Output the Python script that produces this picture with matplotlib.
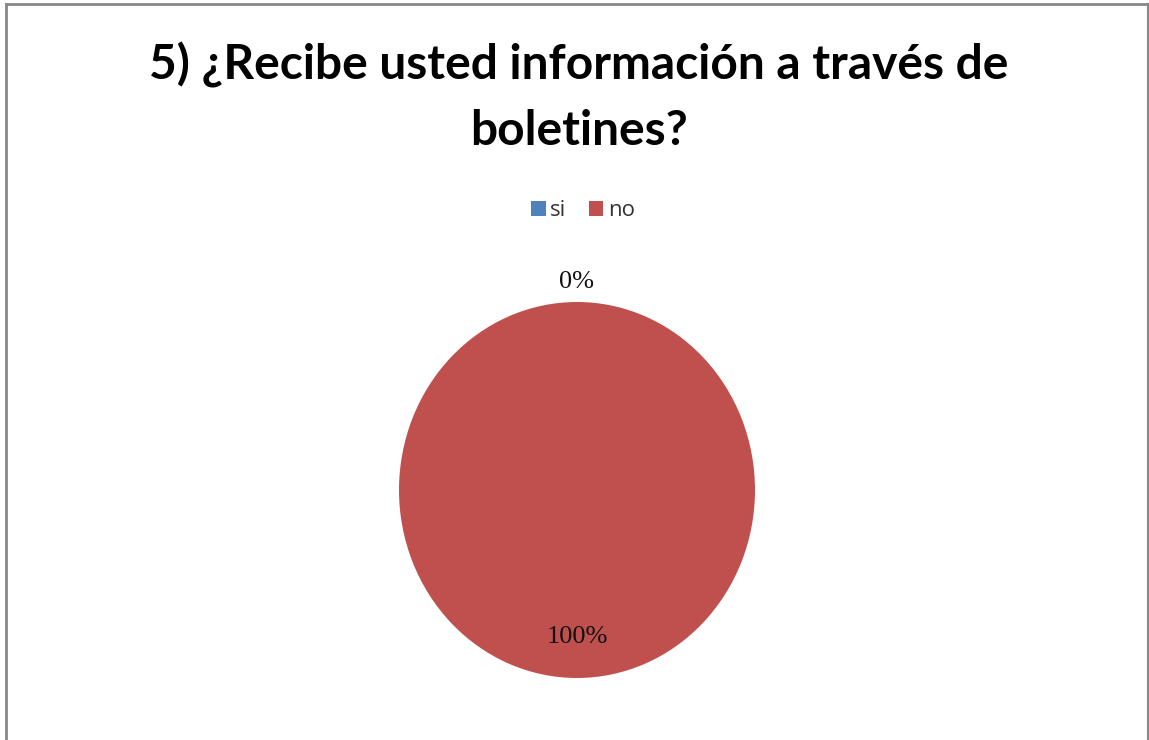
import numpy as np
import matplotlib
matplotlib.use("Agg")
import matplotlib.pyplot as plt
from matplotlib.lines import Line2D

# data
labels = ["si", "no"]
values = [0, 100]
colors = ["#4F81BD", "#C0504D"]
title = "5) ¿Recibe usted información a través de\nboletines?"

W, H = 1149, 740
fig = plt.figure(figsize=(W / 100, H / 100), dpi=100)

# border of the chart area (bottom edge is cut off)
bc = "#888888"
fig.add_artist(Line2D([6 / W, 6 / W], [0, 1 - 4 / H], color=bc, lw=2))
fig.add_artist(Line2D([6 / W, 1148 / W], [1 - 4 / H, 1 - 4 / H], color=bc, lw=2))
fig.add_artist(Line2D([1147.5 / W, 1147.5 / W], [0, 1 - 4 / H], color=bc, lw=1.5))

fig.text(579 / W, 1 - 145 / H, title, ha="center", va="baseline",
         fontsize=34.5, fontweight="bold", family="Lato", linespacing=1.58)

# pie, slightly taller than wide like the original
cx, cy, rx, ry = 577, 490, 178, 188
ax = fig.add_axes([(cx - rx) / W, 1 - (cy + ry) / H, 2 * rx / W, 2 * ry / H])
wedges, _, autotexts = ax.pie(values, colors=colors, startangle=90, counterclock=False,
                              autopct="%1.0f%%", pctdistance=0.78,
                              textprops=dict(family="Liberation Serif", fontsize=19, color="#111111"))
ax.set_aspect("auto")
ax.set_xlim(-1, 1)
ax.set_ylim(-1, 1)
for ax_t, v in zip(autotexts, values):
    if v == 0:
        x, y = ax_t.get_position()
        ax_t.set_position((x * 1.105 / 0.78, y * 1.105 / 0.78))
    ax_t.set_clip_on(False)

leg = fig.legend(wedges, labels, loc="center", bbox_to_anchor=(583 / W, 1 - 211 / H),
                 ncol=2, frameon=False, handlelength=0.65, handleheight=0.65,
                 handletextpad=0.2, columnspacing=1.0,
                 prop=dict(family="Open Sans", size=16))
for t in leg.get_texts():
    t.set_color("#333333")

fig.savefig("out.png", dpi=100)
